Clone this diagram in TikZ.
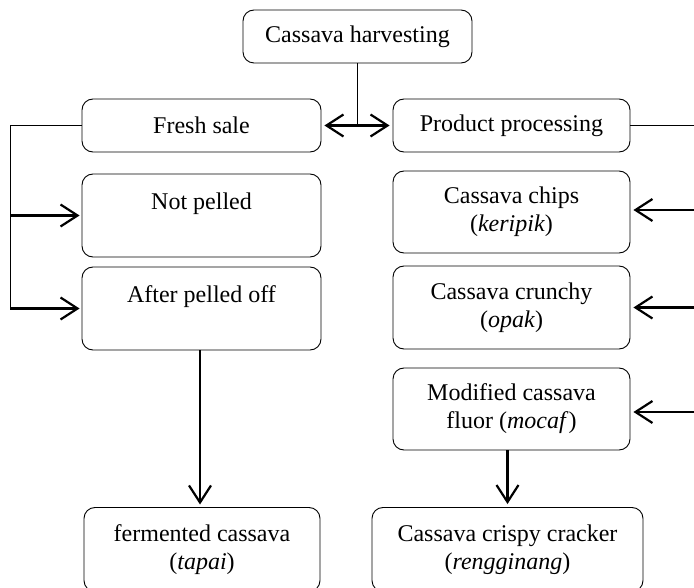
\documentclass[tikz,border=0pt]{standalone}
\usepackage{fontspec}
\setmainfont{Liberation Serif}
\usetikzlibrary{arrows.meta}
\begin{document}
\begin{tikzpicture}[x=1pt,y=-1pt,
  box/.style={draw, line width=0.9pt, rounded corners=11pt, inner sep=0pt, align=center,
    font=\fontsize{24}{28}\selectfont},
  link/.style={line width=1pt},
  arr/.style={line width=2.2pt, -{Straight Barb[length=17pt,width=22pt,line width=2.2pt]}},
  darr/.style={line width=2.2pt, {Straight Barb[length=17pt,width=22pt,line width=2.2pt]}-{Straight Barb[length=17pt,width=22pt,line width=2.2pt]}}]
\useasboundingbox (0,0) rectangle (694,588);
\node[box, minimum width=229pt, minimum height=53pt] (harv) at (357.5,36.5) {Cassava harvesting};
\node[box, minimum width=239pt, minimum height=53pt] (fresh) at (201.5,125.5) {Fresh sale};
\node[box, minimum width=237pt, minimum height=53pt] (proc) at (511.5,125.5) {Product processing};
\node[box, minimum width=239pt, minimum height=83pt] (notp) at (201.5,215.5) {Not pelled\\\mbox{}};
\node[box, minimum width=239pt, minimum height=83pt] (after) at (201.5,308.5) {After pelled off\\\mbox{}};
\node[box, minimum width=237pt, minimum height=82pt] (chips) at (511.5,212) {Cassava chips\\(\textit{keripik})};
\node[box, minimum width=237pt, minimum height=83pt] (crunchy) at (511.5,307.5) {Cassava crunchy\\(\textit{opak})};
\node[box, minimum width=237pt, minimum height=82pt] (mocaf) at (511.5,409) {Modified cassava\\fluor (\textit{mocaf})};
\node[box, minimum width=236pt, minimum height=84pt] (tapai) at (202,549.5) {fermented cassava\\(\textit{tapai})};
\node[box, minimum width=271pt, minimum height=84pt] (reng) at (507.5,549.5) {Cassava crispy cracker\\(\textit{rengginang})};
% top junction
\coordinate (mid) at (harv.south |- fresh.east);
\draw[link] (harv.south) -- (mid);
\draw[darr, shorten <=3pt, shorten >=3pt] (fresh.east) -- (proc.west);
% left branch
\coordinate (ltop) at (10,125.5);
\coordinate (lbot) at (10,308.5);
\draw[link] (fresh.west) -- (ltop) -- (lbot);
\draw[arr, shorten >=2pt] (ltop |- notp.west) -- (notp.west);
\draw[arr, shorten >=2pt] (lbot) -- (after.west);
\draw[arr, shorten >=3pt] (after.south -| 200,0) -- (200,507.5);
% right branch
\coordinate (rtop) at (694,125.5);
\draw[link] (proc.east) -- (rtop);
\coordinate (r1) at (694,210);
\coordinate (r2) at (694,307.5);
\coordinate (r3) at (694,412);
\draw[arr, shorten >=3pt] (r1) -- (r1 -| chips.east);
\draw[arr, shorten >=3pt] (r2) -- (r2 -| crunchy.east);
\draw[arr, shorten >=3pt] (r3) -- (r3 -| mocaf.east);
\draw[arr, shorten >=3pt] (mocaf.south -| reng.north) -- (reng.north);
\end{tikzpicture}
\end{document}
